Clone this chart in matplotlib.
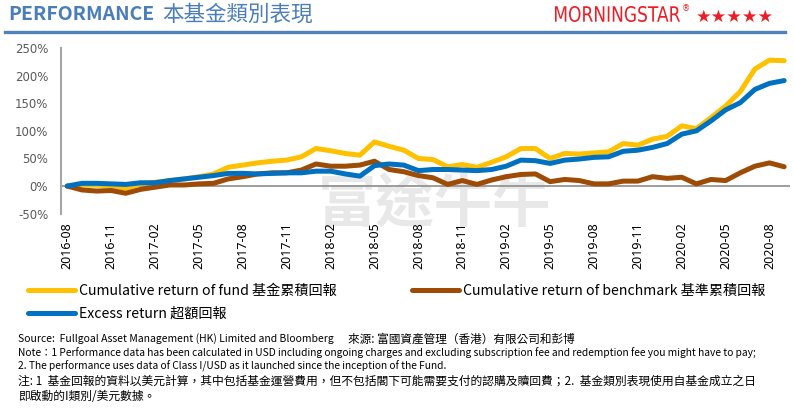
import matplotlib
matplotlib.use("Agg")
import matplotlib.pyplot as plt
from matplotlib.lines import Line2D
from matplotlib.textpath import TextPath
from matplotlib.patches import PathPatch
from matplotlib.font_manager import FontProperties
from matplotlib.transforms import Affine2D, IdentityTransform
import numpy as np

W, H = 794, 413

def fx(x):
    return x / W

def fy(y):
    return 1 - y / H

# monthly points 2016-08 .. 2020-09
months = ["2016-08", "2016-09", "2016-10", "2016-11", "2016-12",
          "2017-01", "2017-02", "2017-03", "2017-04", "2017-05", "2017-06", "2017-07",
          "2017-08", "2017-09", "2017-10", "2017-11", "2017-12",
          "2018-01", "2018-02", "2018-03", "2018-04", "2018-05", "2018-06", "2018-07",
          "2018-08", "2018-09", "2018-10", "2018-11", "2018-12",
          "2019-01", "2019-02", "2019-03", "2019-04", "2019-05", "2019-06", "2019-07",
          "2019-08", "2019-09", "2019-10", "2019-11", "2019-12",
          "2020-01", "2020-02", "2020-03", "2020-04", "2020-05", "2020-06", "2020-07",
          "2020-08", "2020-09"]

fund = [0, 2, 2, 0, -4, 4, 7, 10, 13, 17, 22, 34, 38, 42, 45, 47, 53, 68, 64, 59,
        56, 80, 72, 65, 50, 48, 35, 39, 34, 43, 53, 68, 68, 50, 59, 58, 60, 62, 77, 74,
        85, 90, 109, 104, 124, 145, 171, 212, 228, 227]

benchmark = [0, -7, -9, -8, -13, -6, -2, 2, 2, 4, 5, 13, 17, 22, 24, 24, 29, 40, 36, 36,
             38, 45, 30, 26, 19, 15, 3, 10, 3, 11, 17, 21, 22, 8, 12, 10, 4, 4, 9, 9,
             17, 14, 16, 4, 12, 10, 24, 36, 42, 35]

excess = [0, 5, 5, 4, 3, 6, 6, 10, 13, 16, 19, 23, 23, 22, 23, 24, 24, 27, 27, 22,
          18, 37, 40, 38, 28, 30, 30, 29, 28, 30, 36, 47, 46, 41, 47, 49, 52, 53, 63, 65,
          70, 77, 94, 100, 118, 138, 151, 175, 186, 191]

yticks = [-50, 0, 50, 100, 150, 200, 250]

label_fund = "Cumulative return of fund 基金累積回報"
label_bench = "Cumulative return of benchmark 基準累積回報"
label_excess = "Excess return 超額回報"

CJK = ["Noto Sans CJK TC", "DejaVu Sans"]
RED = "#ee1c25"

fig = plt.figure(figsize=(W / 100, H / 100), dpi=100)

# watermark behind the plot
fig.text(fx(318), fy(206), "富途牛牛", fontsize=42, color="#e8e8e8", family=CJK,
         weight="bold", va="center", ha="left", zorder=-1)

ax = fig.add_axes([fx(60.7), fy(213.7), fx(790) - fx(60.7), (213.7 - 48) / H])
ax.patch.set_alpha(0)

x = np.arange(len(months))
l1, = ax.plot(x, fund, color="#FFC000", lw=3.6, solid_capstyle="round", solid_joinstyle="round")
l2, = ax.plot(x, benchmark, color="#9E4B05", lw=3.6, solid_capstyle="round", solid_joinstyle="round")
l3, = ax.plot(x, excess, color="#0070C0", lw=3.6, solid_capstyle="round", solid_joinstyle="round")

ax.axhline(0, color="#8c8c8c", lw=1.2, zorder=1)
ax.set_xlim(-0.45, 49.4)
ax.set_ylim(-50, 250)
ax.set_yticks(yticks)
ax.set_yticklabels([f"{v}%" for v in yticks], fontsize=8.5, color="#595959", family="DejaVu Sans")
ax.set_xticks(x[::3])
ax.set_xticklabels(months[::3], rotation=90, fontsize=9, family="Noto Sans", va="top")
ax.tick_params(axis="both", length=0)
ax.tick_params(axis="y", pad=9)
ax.tick_params(axis="x", pad=6)
for s in ["top", "right", "bottom"]:
    ax.spines[s].set_visible(False)
ax.spines["left"].set_color("#a6a6a6")
ax.spines["left"].set_linewidth(1.5)

leg = ax.legend([l1, l3, l2], [label_fund, label_excess, label_bench], ncol=2,
                loc="upper left", bbox_to_anchor=(fx(28), fy(284)),
                bbox_transform=fig.transFigure, frameon=False, borderpad=0,
                borderaxespad=0, handlelength=3.3, handletextpad=0.3,
                columnspacing=5.3, labelspacing=0.6,
                prop={"family": CJK, "size": 10.2})
for h in leg.legend_handles:
    h.set_linewidth(3.6)

# header
fig.text(fx(8), fy(15), "PERFORMANCE", fontsize=14, weight="bold", color="#4a7ebb",
         family=CJK, va="center")
fig.text(fx(162), fy(15), "本基金類別表現", fontsize=15.5, color="#4a7ebb",
         family=CJK, va="center")
fig.add_artist(Line2D([fx(5), fx(785)], [fy(32), fy(32)], color="#4f81bd", lw=2.4))

# condensed logo text, squeezed into its box (555..680 px wide, 6..22 px tall)
tp = TextPath((0, 0), "MORNINGSTAR", size=20, prop=FontProperties(family="DejaVu Sans"))
ext = tp.get_extents()
sx = 125 / ext.width
sy = 16 / ext.height
logo_tf = Affine2D().translate(-ext.x0, -ext.y0).scale(sx, sy).translate(555, H - 22)
fig.add_artist(PathPatch(tp, transform=logo_tf + IdentityTransform(), color=RED, lw=0))
fig.text(fx(682), fy(9), "®", fontsize=6, color=RED, va="center")
fig.text(fx(696), fy(17), "★★★★★", fontsize=12.5, color=RED, va="center")

# footnotes
fig.text(fx(18), fy(339), "Source:  Fullgoal Asset Management (HK) Limited and Bloomberg",
         fontsize=7.5, family=CJK, va="center")
fig.text(fx(348), fy(339), "來源: 富國資產管理（香港）有限公司和彭博",
         fontsize=8.4, family=CJK, va="center")
fig.text(fx(18), fy(353), "Note：1 Performance data has been calculated in USD including ongoing "
         "charges and excluding subscription fee and redemption fee you might have to pay;",
         fontsize=7.35, family=CJK, va="center")
fig.text(fx(18), fy(366), "2. The performance uses data of Class I/USD as it launched since "
         "the inception of the Fund.", fontsize=7.35, family=CJK, va="center")
fig.text(fx(18), fy(381), "注: 1  基金回報的資料以美元計算，其中包括基金運營費用，但不包括閣下可能需要"
         "支付的認購及贖回費；2.  基金類別表現使用自基金成立之日", fontsize=8.5, family=CJK,
         va="center")
fig.text(fx(18), fy(396), "即啟動的I類別/美元數據。", fontsize=8.5, family=CJK, va="center")

fig.savefig("out.png", dpi=100)
